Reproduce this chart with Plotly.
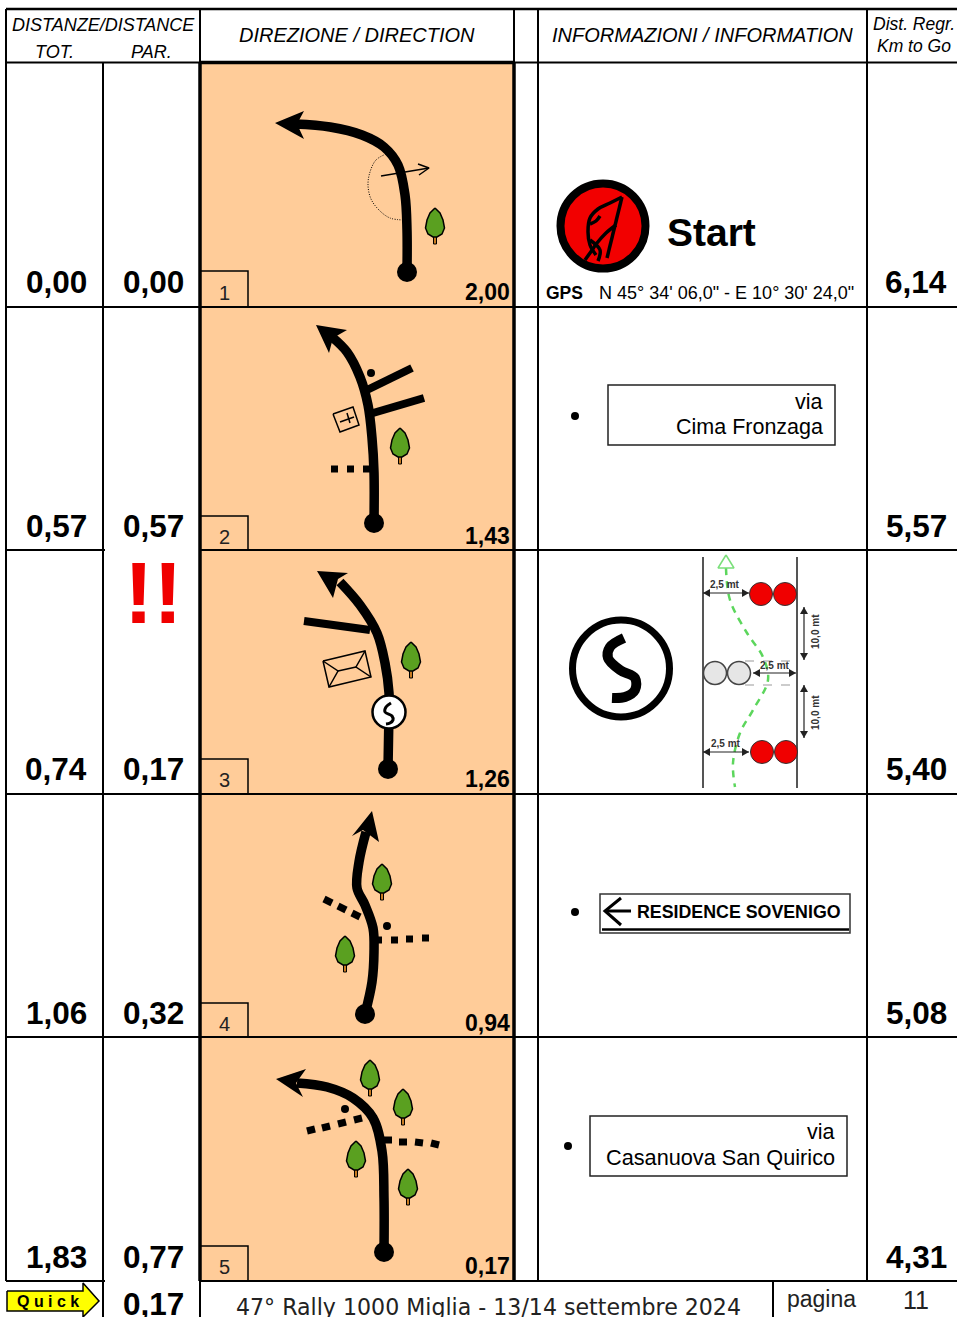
import plotly.graph_objects as go

# ---- table content ----
TOT = ["0,00", "0,57", "0,74", "1,06", "1,83"]
PAR = ["0,00", "0,57", "0,17", "0,32", "0,77"]
TO_END = ["2,00", "1,43", "1,26", "0,94", "0,17"]
TO_GO = ["6,14", "5,57", "5,40", "5,08", "4,31"]
CAP = ["1", "2", "3", "4", "5"]
ROW_Y = [62, 307, 550, 794, 1037, 1281]
VALUE_Y = [282, 526, 769, 1013, 1257]
END_Y = [292, 536, 779, 1023, 1266]
BOX_TOP = [271, 516, 759, 1003, 1246]
OPEN_PAR_ROWS = [550, 1281]

# ---- road diagrams ----
ROADS_X = [[407, 407, 405, 398, 384, 362, 330, 295],
           [374, 374, 372, 368, 360, 347, 332],
           [388, 389, 389, 385, 377, 360, 340],
           [365, 372, 374, 373, 365, 357, 359, 366],
           [384, 384, 382, 373, 353, 327, 297]]
ROADS_Y = [[272, 230, 195, 165, 147, 135, 127, 124],
           [523, 472, 438, 405, 377, 352, 337],
           [769, 712, 693, 663, 633, 605, 582],
           [1014, 982, 952, 928, 905, 888, 862, 832],
           [1252, 1198, 1151, 1118, 1098, 1087, 1083]]
HEADS_X = [[275, 304, 297, 304], [316, 347, 333, 329], [317, 348, 338, 333],
           [372, 352, 363, 379], [276, 306, 296, 303]]
HEADS_Y = [[123, 111, 124, 139], [325, 330, 338, 353], [571, 573, 579, 598],
           [811, 836, 830, 842], [1079, 1069, 1083, 1097]]
BRANCH_SOLID = [((367, 390), (412, 368)), ((373, 413), (424, 398)), ((304, 621), (370, 630))]
BRANCH_DASH = [((331, 469), (338, 469)), ((347, 469), (354, 469)), ((363, 469), (372, 469)),
               ((324, 899), (332, 903)), ((338, 906), (346, 910)), ((352, 913), (360, 917)),
               ((375, 940), (382, 940)), ((391, 940), (398, 940)), ((406, 939), (413, 939)), ((422, 938), (429, 938)),
               ((307, 1131), (315, 1129)), ((322, 1128), (330, 1126)), ((338, 1124), (346, 1122)), ((354, 1120), (362, 1118)),
               ((384, 1140), (392, 1140)), ((399, 1142), (407, 1142)), ((415, 1142), (423, 1143)), ((431, 1143), (439, 1145))]
SMALL_DOTS = [(371, 373), (387, 926), (345, 1109), (575, 416), (575, 912), (568, 1146)]
TREES = [(435, 208), (400, 428), (411, 642), (382, 864), (345, 936), (370, 1060), (403, 1089), (356, 1141), (408, 1169)]
CROWN_DX = [0, -5, -8, -9.5, -7, -2, 2, 7, 9.5, 8, 5, 0]
CROWN_DY = [0, 5, 12, 20, 26, 29, 29, 26, 20, 12, 5, 0]
DOT_ARC_X = [386, 376, 370, 368, 371, 379, 390, 404]
DOT_ARC_Y = [154, 160, 172, 185, 199, 210, 218, 220]
THIN_ARROWS = [[(381, 176), (429, 168)], [(418, 164), (429, 168), (419, 175)]]
BOX_ICON = [[(333, 414), (353, 407), (359, 425), (340, 432), (333, 414)], [(340, 422), (354, 417)], [(347, 413), (350, 423)]]
ENVELOPE = [[(323, 661), (365, 651), (371, 677), (329, 687), (323, 661)],
            [(323, 661), (338, 671), (329, 687)], [(365, 651), (356, 667), (371, 677)], [(338, 671), (356, 667)]]
S_SMALL_X = [391, 386, 385, 392, 393, 390, 386]
S_SMALL_Y = [703, 707, 712, 716, 720, 723, 724]
S_BIG_X = [624, 610, 608, 620, 635, 635, 625, 612]
S_BIG_Y = [638, 647, 658, 670, 678, 690, 697, 698]
FLAG_STROKES = [[(622, 197), (607, 258)],
                [(622, 197), (610, 203), (598, 209), (590, 218), (588, 232), (590, 245), (596, 255)],
                [(616, 225), (606, 233), (597, 243), (590, 253), (585, 260)],
                [(590, 224), (596, 221), (600, 216)], [(590, 240), (600, 250), (598, 261)]]
PYLON_RED = [(761, 594), (785, 594), (762, 752), (786, 752)]
PYLON_GREY = [(715, 673), (739, 673)]
GREEN_X = [726, 730, 747, 763, 768, 753, 740, 733, 735]
GREEN_Y = [568, 600, 633, 657, 680, 710, 733, 763, 787]
DIM_ARROWS = [((703, 593), (749, 593)), ((703, 752), (749, 752)), ((753, 673), (796, 673)),
              ((804, 607), (804, 660)), ((804, 685), (804, 738))]
DIM_LABELS = [(725, 584, "2,5 mt", 0), (726, 743, "2,5 mt", 0), (775, 665, "2,5 mt", 0),
              (815, 632, "10,0 mt", -90), (815, 713, "10,0 mt", -90)]

ORANGE = "#FFCC99"
SANS = "Liberation Sans"
DEJA = "DejaVu Sans"
shapes, notes = [], []
fig = go.Figure()


def line(x0, y0, x1, y1, w=2, c="black", layer="above", dash=None):
    ln = dict(color=c, width=w)
    if dash:
        ln["dash"] = dash
    shapes.append(dict(type="line", xref="x", yref="y", x0=x0, y0=y0, x1=x1, y1=y1, line=ln, layer=layer))


def rect(x0, y0, x1, y1, fill=None, w=0, c="black", layer="above"):
    shapes.append(dict(type="rect", xref="x", yref="y", x0=x0, y0=y0, x1=x1, y1=y1,
                       fillcolor=fill or "rgba(0,0,0,0)", line=dict(color=c, width=w), layer=layer))


def path(xs, ys, w=2, c="black", spline=False, dash=None):
    ln = dict(color=c, width=w, shape="spline" if spline else "linear")
    if dash:
        ln["dash"] = dash
    fig.add_trace(go.Scatter(x=xs, y=ys, mode="lines", line=ln, hoverinfo="skip"))


def pts(seq, w=2, c="black", spline=False):
    path([p[0] for p in seq], [p[1] for p in seq], w, c, spline)


def poly(xs, ys, fill="black", w=0, c="black"):
    fig.add_trace(go.Scatter(x=list(xs) + [xs[0]], y=list(ys) + [ys[0]], mode="lines", fill="toself",
                             fillcolor=fill, line=dict(color=c, width=w), hoverinfo="skip"))


def dot(x, y, d, fill="black", w=0, c="black"):
    fig.add_trace(go.Scatter(x=[x], y=[y], mode="markers", hoverinfo="skip",
                             marker=dict(size=d, color=fill, line=dict(color=c, width=w))))


def text(x, y, s, size, font=SANS, anchor="center", color="black", angle=0):
    notes.append(dict(x=x, y=y, xref="x", yref="y", text=s, showarrow=False, xanchor=anchor, yanchor="middle",
                      align=anchor, textangle=angle, borderpad=0, font=dict(family=font, size=size, color=color)))


# ---- background ----
rect(201, 63, 513, 1281, fill=ORANGE, layer="below")

# ---- roads ----
for i in range(5):
    path(ROADS_X[i], ROADS_Y[i], w=9.5, spline=True)
    poly(HEADS_X[i], HEADS_Y[i])
    dot(ROADS_X[i][0], ROADS_Y[i][0], 20)
for a, b in BRANCH_SOLID:
    path([a[0], b[0]], [a[1], b[1]], w=8)
for a, b in BRANCH_DASH:
    path([a[0], b[0]], [a[1], b[1]], w=7)
for x, y in SMALL_DOTS:
    dot(x, y, 8)
for x, y in TREES:
    poly([x - 1.5, x + 1.5, x + 1.5, x - 1.5], [y + 28, y + 28, y + 36, y + 36], fill="#C87A20", w=1)
    poly([x + d for d in CROWN_DX], [y + d for d in CROWN_DY], fill="#5AA020", w=1.5)
path(DOT_ARC_X, DOT_ARC_Y, w=1, spline=True, dash="1px,1.5px")
for seq in THIN_ARROWS:
    pts(seq, w=1.5)
for seq in BOX_ICON + ENVELOPE:
    pts(seq, w=1.5)
dot(389, 712, 33, fill="white", w=2.5)
path(S_SMALL_X, S_SMALL_Y, w=3, spline=True)

# ---- start badge ----
dot(603, 226, 85, fill="#F20000", w=8)
for seq in FLAG_STROKES:
    pts(seq, w=3.5, spline=True)

# ---- S badge and slalom sketch ----
dot(621, 668.5, 97, fill="white", w=7)
path(S_BIG_X, S_BIG_Y, w=10, spline=True)
line(703, 557, 703, 788, 2, "#555555", layer="below")
line(797, 557, 797, 788, 2, "#555555", layer="below")
line(745, 661, 797, 661, 1, "#999999", "below", "dash")
line(745, 685, 797, 685, 1, "#999999", "below", "dash")
path(GREEN_X, GREEN_Y, w=2.5, c="#5CD65C", spline=True, dash="7px,6px")
pts([(726, 555), (718, 568), (734, 568), (726, 555)], w=1.5, c="#7ADF7A")
for x, y in PYLON_RED:
    dot(x, y, 23, fill="#F00000", w=1, c="#333333")
for x, y in PYLON_GREY:
    dot(x, y, 23, fill="#E6E6E6", w=1.5, c="#444444")
for a, b in DIM_ARROWS:
    path([a[0], b[0]], [a[1], b[1]], w=1.2, c="#222222")
    if a[1] == b[1]:
        poly([a[0], a[0] + 7, a[0] + 7], [a[1], a[1] - 4, a[1] + 4], fill="#222222")
        poly([b[0], b[0] - 7, b[0] - 7], [b[1], b[1] - 4, b[1] + 4], fill="#222222")
    else:
        poly([a[0], a[0] - 4, a[0] + 4], [a[1], a[1] + 7, a[1] + 7], fill="#222222")
        poly([b[0], b[0] - 4, b[0] + 4], [b[1], b[1] - 7, b[1] - 7], fill="#222222")
for x, y, s, ang in DIM_LABELS:
    text(x, y, f"<b>{s}</b>", 10, color="#333333", angle=ang)

# ---- signs ----
rect(608, 385, 835, 445, w=1.5, c="#222222")
rect(590, 1116, 847, 1176, w=1.5, c="#222222")
rect(600, 894, 850, 933, w=1.5, c="#333333")
line(602, 929.5, 849, 929.5, 2.5)
path([631, 605], [911, 911], w=3)
pts([(621, 898), (605, 911), (621, 925)], w=3)

# ---- grid ----
line(6, 9, 957, 9, 2.5)
line(6, 62.5, 957, 62.5, 2)
line(200, 62.5, 515, 62.5, 3.5)
for y in ROW_Y[1:]:
    if y in OPEN_PAR_ROWS:
        line(6, y, 105, y, 2)
        line(199, y, 957, y, 2)
    else:
        line(6, y, 957, y, 2)
line(6, 9, 6, 1281, 2)
line(103, 62, 103, 1317, 2)
line(200, 9, 200, 62, 2)
line(200, 62, 200, 1281, 3.5)
line(200, 1281, 200, 1317, 2)
line(514, 9, 514, 62, 2)
line(514, 62, 514, 1281, 3.5)
line(538, 9, 538, 1281, 2)
line(867, 9, 867, 1281, 2)
line(773, 1281, 773, 1317, 2)
for i in range(5):
    rect(200, BOX_TOP[i], 248, ROW_Y[i + 1], w=1.5)

# ---- quick arrow ----
poly([7, 83, 83, 99, 83, 83, 7], [1291, 1291, 1283, 1301, 1317, 1311, 1311], fill="#FFFF00", w=1.5)

# ---- texts ----
text(103, 25, "<i>DISTANZE/DISTANCE</i>", 18)
text(54, 52, "<i>TOT.</i>", 18)
text(151, 52, "<i>PAR.</i>", 18)
text(357, 35, "<i>DIREZIONE / DIRECTION</i>", 20)
text(702, 35, "<i>INFORMAZIONI / INFORMATION</i>", 20)
text(914, 24, "<i>Dist. Regr.</i>", 17.5)
text(914, 46, "<i>Km to Go</i>", 17.5)
for i in range(5):
    text(56, VALUE_Y[i], f"<b>{TOT[i]}</b>", 31.5)
    text(153, VALUE_Y[i], f"<b>{PAR[i]}</b>", 31.5)
    text(916, VALUE_Y[i], f"<b>{TO_GO[i]}</b>", 31.5)
    text(510.5, END_Y[i], f"<b>{TO_END[i]}</b>", 23, anchor="right")
    text(224, END_Y[i] + 1, CAP[i], 20, color="#222222")
text(153, 592, "<b>!!</b>", 88, color="#F00000")
text(666, 232, "<b>Start</b>", 39, anchor="left")
text(545, 293, "<b>GPS</b>", 17.5, anchor="left")
text(598, 293, "N 45° 34' 06,0\" - E 10° 30' 24,0\"", 18, anchor="left")
text(824, 402, "via", 21.5, anchor="right")
text(824, 427, "Cima Fronzaga", 21.5, anchor="right")
text(836, 1132, "via", 21.5, anchor="right")
text(836, 1157, "Casanuova San Quirico", 21.7, anchor="right")
text(636, 912, "<b>RESIDENCE SOVENIGO</b>", 17.8, anchor="left")
text(48, 1301, "<b>Q u i c k</b>", 16)
text(153, 1304, "<b>0,17</b>", 31.5)
text(488, 1307, "47° Rally 1000 Miglia - 13/14 settembre 2024", 22.1, font=DEJA, color="#222222")
text(821, 1299, "pagina", 23, color="#222222")
text(916, 1300, "11", 25, color="#222222")

fig.update_layout(width=957, height=1317, margin=dict(l=0, r=0, t=0, b=0), autosize=False,
                  paper_bgcolor="white", plot_bgcolor="white", showlegend=False, shapes=shapes, annotations=notes,
                  xaxis=dict(range=[0, 957], visible=False, fixedrange=True),
                  yaxis=dict(range=[1317, 0], visible=False, fixedrange=True))
fig.write_html("out.html", config=dict(displayModeBar=False),
               post_script="document.body.style.margin='0';document.body.style.overflow='hidden';")
